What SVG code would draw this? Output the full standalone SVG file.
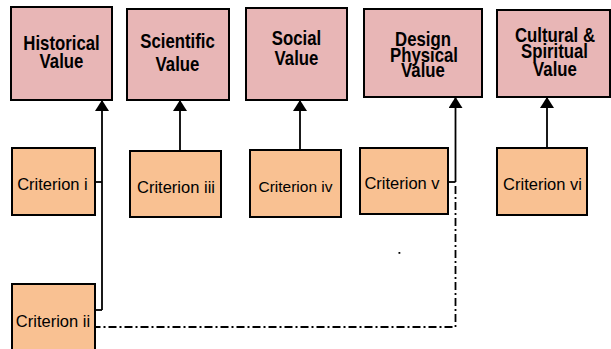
<svg xmlns="http://www.w3.org/2000/svg" width="611" height="349" viewBox="0 0 611 349">
<defs>
<style>
.val rect{fill:#E8B6B6;stroke:#000;stroke-width:2}
.crit rect{fill:#F9C192;stroke:#000;stroke-width:2}
.t{font-family:"Liberation Sans",Arial,sans-serif;font-weight:bold;font-size:19.5px;text-anchor:middle;fill:#000}
.c{font-family:"Liberation Sans",Arial,sans-serif;font-size:16.5px;text-anchor:middle;fill:#000}
.ln{fill:none;stroke:#000;stroke-width:1.8}
.dd{fill:none;stroke:#000;stroke-width:1.8;stroke-dasharray:8 3 2 3}
</style>
<marker id="ah" viewBox="0 0 11 14" refX="11" refY="7" markerWidth="11" markerHeight="14" markerUnits="userSpaceOnUse" orient="auto">
<path d="M0,0 L11,7 L0,14 Z" fill="#000"/>
</marker>
</defs>
<rect width="611" height="349" fill="#fff"/>
<g id="historical" class="val"><rect x="11" y="7" width="101" height="93"/>
<text class="t" transform="translate(61.5 50) scale(0.86 1)">Historical</text>
<text class="t" transform="translate(61.5 68) scale(0.86 1)">Value</text></g>
<g id="scientific" class="val"><rect x="127" y="9" width="102" height="91"/>
<text class="t" transform="translate(177.5 48) scale(0.86 1)">Scientific</text>
<text class="t" transform="translate(177.5 71) scale(0.86 1)">Value</text></g>
<g id="social" class="val"><rect x="246" y="8" width="101" height="92"/>
<text class="t" transform="translate(296.5 45) scale(0.86 1)">Social</text>
<text class="t" transform="translate(296.5 65) scale(0.86 1)">Value</text></g>
<g id="design" class="val"><rect x="364" y="9" width="118" height="88"/>
<text class="t" transform="translate(423 46) scale(0.86 1)">Design</text>
<text class="t" transform="translate(424 62) scale(0.86 1)">Physical</text>
<text class="t" transform="translate(423 77) scale(0.86 1)">Value</text></g>
<g id="cultural" class="val"><rect x="497" y="10" width="113" height="87"/>
<text class="t" transform="translate(555 42) scale(0.86 1)">Cultural &amp;</text>
<text class="t" transform="translate(554.5 58) scale(0.86 1)">Spiritual</text>
<text class="t" transform="translate(555 76) scale(0.86 1)">Value</text></g>
<g id="crit-i" class="crit"><rect x="12" y="148" width="83" height="67"/>
<text class="c" x="52.5" y="190">Criterion i</text></g>
<g id="crit-iii" class="crit"><rect x="130" y="151" width="91" height="66"/>
<text class="c" x="176" y="193">Criterion iii</text></g>
<g id="crit-iv" class="crit"><rect x="250" y="150" width="91" height="67"/>
<text class="c" x="295.5" y="192" style="font-size:15.5px">Criterion iv</text></g>
<g id="crit-v" class="crit"><rect x="360" y="148" width="88" height="66"/>
<text class="c" x="402" y="189">Criterion v</text></g>
<g id="crit-vi" class="crit"><rect x="497" y="148" width="90" height="67"/>
<text class="c" x="542.5" y="190">Criterion vi</text></g>
<g id="crit-ii" class="crit"><rect x="12" y="284" width="83" height="70"/>
<text class="c" x="53" y="327">Criterion ii</text></g>
<g id="connectors">
<path class="ln" d="M102,310 V100" marker-end="url(#ah)"/>
<path class="ln" d="M95,182 H102"/>
<path class="ln" d="M95,310 H102"/>
<path class="ln" d="M180,151 V100" marker-end="url(#ah)"/>
<path class="ln" d="M300,150 V100" marker-end="url(#ah)"/>
<path class="ln" d="M455.5,182 V97" marker-end="url(#ah)"/>
<path class="ln" d="M448,182 H455.5"/>
<path class="ln" d="M547,148 V97" marker-end="url(#ah)"/>
<path class="dd" d="M455.5,186 V327 H96"/>
</g>
<rect x="398.5" y="252" width="1.8" height="1.8" fill="#000"/>
</svg>
